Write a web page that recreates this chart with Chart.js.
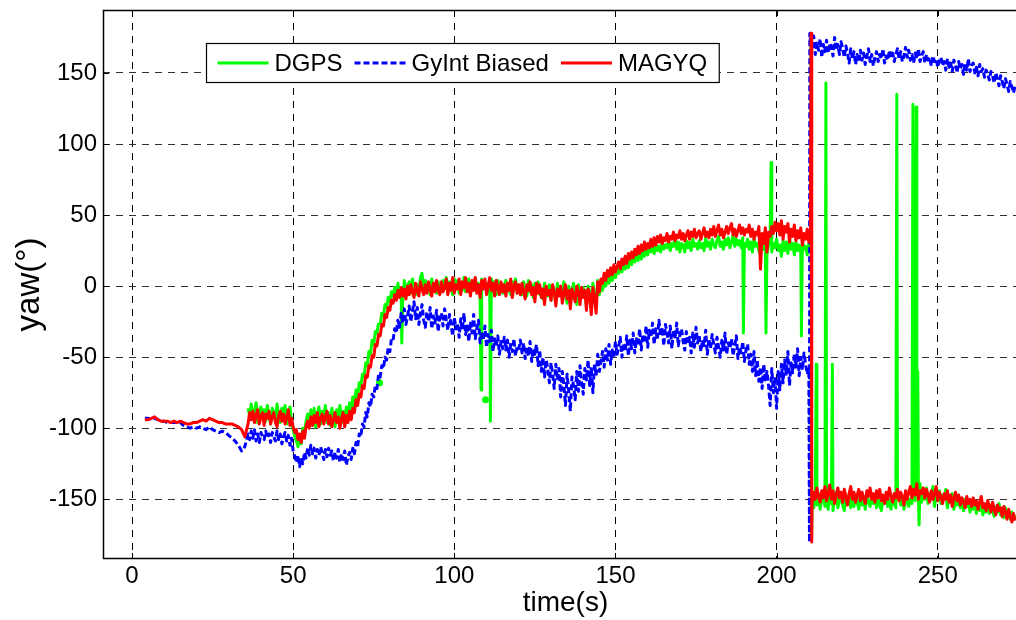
<!DOCTYPE html>
<html><head><meta charset="utf-8">
<script src="https://cdn.jsdelivr.net/npm/chart.js@4.4.1/dist/chart.umd.min.js"></script>
<style>html,body{margin:0;padding:0;background:#fff;overflow:hidden;width:1016px;height:620px;}</style>
</head><body>
<canvas id="c" width="1028" height="620"></canvas>
<script>
// trecho suave: 1 s a partir de 4 s; trecho ruidoso: 0,5 s a partir de 36 s (10 valores = 5 s por linha)
// pontos extras (saltos, picos, pontos soltos) em listas separadas
// a figura original é cortada à direita: o canvas passa um pouco da janela
const xTicks=[0,50,100,150,200,250];
const yTicks=[-150,-100,-50,0,50,100,150];
const labels=['DGPS','GyInt Biased','MAGYQ'];

const dgpsT0=36, dgpsDt=0.5;
const dgpsYaw=[
 -86,-91,-83,-94,-88,-82,-96,-90,-85,-93,
 -87,-95,-84,-91,-97,-86,-89,-94,-83,-92,
 -96,-86,-91,-84,-97,-89,-85,-95,-101,-106,
 -109,-113,-105,-111,-100,-104,-95,-90,-98,-87,
 -94,-86,-99,-90,-85,-97,-88,-93,-84,-96,
 -89,-98,-86,-92,-99,-87,-91,-84,-96,-88,
 -97,-85,-93,-82,-89,-78,-84,-73,-79,-68,
 -71,-62,-64,-54,-56,-46,-48,-38,-41,-32,
 -33,-26,-27,-19,-21,-13,-15,-8,-11,-4,
 -7,-1,-9,2,-5,-3,-8,4,-4,0,
 3,-5,5,-2,-6,1,-3,6,9,-4,
 4,-3,1,-6,5,-2,2,-5,3,-1,
 -4,4,-2,6,-5,3,0,-6,5,-2,
 4,-5,2,-3,6,-4,1,5,-6,3,
 -2,6,-4,2,-7,5,-1,3,-5,2,
 -4,5,-2,3,-6,4,-3,2,-5,1,
 4,-4,2,-6,3,-2,5,-5,1,-3,
 -6,3,-2,-7,4,-4,1,-8,2,-5,
 3,-6,-2,-9,2,-4,-7,1,-10,0,
 -3,-11,2,-5,-1,-8,3,-6,-12,0,
 -4,-9,2,-6,-13,1,-3,-8,-1,-5,
 -14,0,-4,-16,2,-7,-12,4,-6,1,
 -3,5,0,7,2,9,4,11,6,12,
 9,14,10,16,12,18,13,19,15,21,
 17,22,18,24,19,25,21,26,22,27,
 24,29,23,30,25,28,24,31,26,29,
 27,32,25,30,28,33,26,31,24,30,
 29,24,32,27,31,25,33,28,30,26,
 32,27,30,25,34,28,31,26,33,29,
 27,32,35,28,31,26,33,29,34,27,
 31,36,28,33,29,32,27,34,30,28,
 33,26,31,24,34,28,30,25,22,32,
 26,31,22,29,34,24,30,27,33,25,
 29,21,32,25,31,23,34,26,30,22,
 31,25,29,23,32,26,28,22,30,27,
 -152,-156,-148,-154,-146,-157,-150,-144,-155,-149,
 -157,-147,-153,-158,-149,-145,-156,-151,-147,-154,
 -158,-149,-153,-146,-156,-150,-155,-147,-152,-157,
 -148,-154,-150,-157,-146,-152,-155,-149,-153,-147,
 -156,-150,-154,-158,-149,-153,-147,-155,-151,-157,
 -148,-153,-156,-150,-146,-154,-149,-157,-152,-147,
 -155,-150,-153,-146,-151,-141,-148,-139,-152,-144,
 -150,-142,-153,-146,-148,-141,-155,-147,-151,-144,
 -153,-147,-150,-143,-156,-149,-152,-146,-157,-150,
 -154,-148,-156,-151,-158,-150,-155,-152,-159,-153,
 -157,-151,-160,-154,-158,-150,-161,-155,-159,-152,
 -160,-154,-158,-162,-155,-159,-153,-161,-157,-163,
 -156,-162,-158,-164,-159,-163,-161];
const dgpsExtraT=[76.7,76.8,76.9,83.7,108.3,109.6,109.7,109.8,111.2,189.7,196.7,198.3,207.7,210.6,210.85,212.3,215.3,217.3,237.3,242.3,242.8,243.3,243.8,244.2];
const dgpsExtraYaw=[null,-68,null,-40,-73,null,-80,null,-95,-33,-33,87,-35,178,-178,-55,143,-55,135,128,-70,126,-60,-168];

const gyintSuaveT0=4;
const gyintSuaveYaw=[
 -93,-93,-94,-93,-94,-95,
 -95,-96,-96,-96,-96,-96,-98,-99,-100,-99,
 -100,-99,-100,-101,-99,-101,-102,-103,-102,-103,
 -105,-107,-109,-112,-116,-113];
const gyintT0=36, gyintDt=0.5;
const gyintYaw=[
 -104,-108,-102,-107,-101,-109,-104,-110,-103,-106,
 -108,-102,-107,-104,-110,-103,-106,-109,-102,-108,
 -104,-111,-106,-103,-109,-105,-112,-107,-116,-120,
 -124,-119,-127,-121,-125,-117,-121,-114,-119,-112,
 -118,-114,-121,-115,-119,-113,-117,-122,-115,-120,
 -114,-119,-116,-123,-117,-121,-115,-124,-118,-122,
 -116,-126,-120,-117,-122,-114,-118,-110,-113,-104,
 -106,-97,-99,-89,-92,-82,-85,-76,-78,-70,
 -72,-62,-64,-56,-58,-50,-52,-43,-46,-37,
 -38,-30,-33,-24,-29,-19,-26,-16,-27,-21,
 -14,-25,-18,-11,-23,-15,-27,-19,-13,-24,
 -29,-18,-25,-15,-30,-21,-26,-17,-32,-22,
 -19,-28,-16,-24,-31,-20,-27,-35,-22,-30,
 -26,-36,-23,-31,-19,-34,-28,-39,-25,-33,
 -20,-37,-30,-24,-40,-32,-38,-28,-43,-34,
 -39,-31,-46,-37,-42,-35,-48,-39,-44,-36,
 -45,-38,-50,-41,-46,-37,-49,-42,-44,-38,
 -47,-40,-51,-43,-49,-39,-53,-44,-48,-41,
 -56,-45,-60,-50,-64,-52,-58,-68,-54,-62,
 -72,-55,-66,-58,-78,-60,-70,-84,-62,-74,
 -88,-64,-70,-80,-60,-74,-56,-68,-76,-58,
 -66,-52,-70,-57,-75,-55,-63,-48,-60,-53,
 -46,-57,-44,-52,-41,-55,-45,-50,-39,-48,
 -43,-36,-50,-40,-46,-35,-49,-38,-44,-33,
 -47,-37,-42,-30,-45,-34,-40,-28,-43,-31,
 -36,-26,-41,-30,-38,-24,-35,-29,-42,-27,
 -33,-40,-28,-44,-31,-37,-26,-42,-34,-30,
 -39,-45,-32,-41,-36,-47,-33,-43,-29,-40,
 -35,-46,-38,-42,-31,-48,-37,-44,-34,-41,
 -47,-36,-43,-50,-38,-45,-33,-48,-40,-44,
 -37,-49,-42,-35,-51,-43,-47,-39,-53,-45,
 -41,-55,-48,-60,-46,-63,-52,-67,-57,-72,
 -55,-66,-60,-70,-84,-58,-75,-64,-86,-60,
 -73,-55,-68,-52,-62,-46,-70,-54,-61,-48,
 -57,-44,-63,-50,-59,-47,-55,-62,-58,172,
 168,176,163,171,166,174,161,170,165,173,
 164,171,168,162,175,166,170,163,172,167,
 161,169,164,157,167,160,165,156,163,158,
 166,159,164,156,162,167,158,163,155,161,
 165,158,163,160,167,157,162,159,166,161,
 164,158,163,167,160,165,158,162,168,161,
 166,159,163,157,164,160,167,158,162,165,
 157,163,159,161,155,162,158,160,154,159,
 161,155,158,152,160,154,157,151,159,156,
 150,158,153,156,149,157,152,160,151,155,
 157,150,154,148,156,151,153,147,152,149,
 145,151,148,143,150,146,141,148,144,139,
 146,142,137,144,140,136,141];
const gyintExtraT=[210.2,210.3];
const gyintExtraYaw=[-180,178];

const magyqSuaveT0=4;
const magyqSuaveYaw=[
 -94,-94,-93,-92,-94,-95,
 -95,-95,-96,-95,-96,-95,-96,-97,-97,-96,
 -96,-95,-94,-95,-93,-94,-95,-96,-96,-97,
 -97,-97,-98,-99,-101,-106];
const magyqT0=36, magyqDt=0.5;
const magyqYaw=[
 -97,-89,-94,-88,-96,-91,-87,-97,-92,-89,
 -98,-90,-93,-88,-97,-92,-89,-96,-99,-91,
 -88,-95,-90,-97,-92,-87,-98,-93,-99,-103,
 -101,-108,-104,-110,-102,-107,-99,-95,-100,-92,
 -98,-91,-96,-89,-99,-93,-90,-97,-92,-88,
 -97,-91,-99,-94,-89,-96,-92,-100,-93,-89,
 -99,-91,-96,-88,-94,-86,-89,-80,-84,-76,
 -78,-70,-72,-63,-64,-56,-57,-49,-50,-41,
 -42,-34,-35,-27,-28,-20,-22,-15,-17,-10,
 -12,-6,-10,-3,-8,-1,-7,-2,-9,0,
 -6,1,-4,-8,2,-3,-7,3,-2,-6,
 1,-5,3,-2,-7,2,-4,4,-3,-6,
 3,-4,-1,5,-6,2,-3,6,-5,1,
 -2,5,-6,3,-1,6,-4,2,-7,4,
 -3,6,-5,1,-8,4,-2,5,-6,0,
 6,-3,2,-7,4,-1,-6,3,-4,1,
 -7,2,-3,5,-8,0,3,-5,1,-6,
 2,-4,-9,1,-3,3,-6,-1,-11,2,
 -5,1,-8,-2,-13,0,-6,-3,-10,1,
 -4,-14,-2,-7,0,-12,-5,1,-9,-3,
 -16,-2,-6,-11,0,-4,-13,-1,-8,-3,
 -17,-2,-6,-20,-1,-9,-19,3,-4,5,
 2,9,4,11,7,13,8,15,10,14,
 17,12,19,15,21,16,23,19,24,20,
 26,22,28,23,29,25,31,26,30,27,
 33,28,34,29,35,31,36,30,34,32,
 37,31,35,33,38,32,36,34,39,33,
 37,32,36,39,33,38,35,40,34,37,
 39,33,37,41,35,38,34,40,36,42,
 35,39,43,36,40,34,38,42,37,41,
 44,36,40,35,39,43,37,41,36,40,
 38,43,35,40,33,38,36,42,12,37,
 30,41,24,38,35,42,37,45,39,44,
 36,46,33,42,38,44,31,40,35,43,
 32,39,34,41,29,37,33,40,31,36,
 -153,-145,-150,-142,-148,-152,-144,-149,-141,-151,
 -146,-140,-150,-144,-153,-147,-142,-149,-145,-152,
 -143,-148,-154,-146,-141,-150,-145,-152,-147,-143,
 -151,-145,-149,-153,-144,-148,-142,-150,-146,-152,
 -144,-149,-143,-151,-147,-153,-145,-150,-142,-148,
 -152,-146,-149,-143,-151,-145,-148,-154,-144,-150,
 -145,-141,-149,-143,-147,-139,-150,-144,-146,-142,
 -149,-143,-147,-152,-144,-150,-146,-141,-151,-145,
 -148,-153,-146,-150,-144,-152,-147,-155,-149,-145,
 -151,-147,-154,-149,-152,-156,-148,-153,-150,-155,
 -149,-154,-151,-157,-152,-148,-156,-153,-158,-151,
 -155,-159,-152,-157,-161,-154,-158,-156,-162,-155,
 -159,-164,-157,-162,-166,-160,-165];
const magyqExtraT=[210.7,210.9];
const magyqExtraYaw=[178,-180];

// junta trechos amostrados (t0, passo, valores) e pontos extras, ordenado no tempo
function serie(trechos,exT,exYaw){
  const p=[];
  trechos.forEach(([t0,dt,yaw])=>yaw.forEach((v,i)=>p.push({x:t0+i*dt,y:v})));
  exT.forEach((t,i)=>p.push({x:t,y:exYaw[i]}));
  return p.sort((a,b)=>a.x-b.x);
}
// ponto isolado (entre nulos) vira bolinha
function raioIsolado(ctx){
  const d=ctx.dataset.data,i=ctx.dataIndex,a=d[i-1],b=d[i+1];
  return d[i]&&d[i].y!==null&&a&&a.y===null&&b&&b.y===null?3.5:0;
}

const FONTE='"Liberation Sans", Arial, sans-serif';
const cores=['#00ff00','#0000ff','#ff0000'];
const tracos=[[],[6,3],[]];

const moldura={id:'moldura',afterDatasetsDraw(ch){
  const {ctx:c,chartArea:a,scales:{x,y}}=ch;
  c.save();
  c.strokeStyle='#000';c.lineWidth=1.5;
  c.beginPath();
  c.moveTo(a.right,a.top+0.5);c.lineTo(a.left+0.5,a.top+0.5);c.lineTo(a.left+0.5,a.bottom-0.5);c.lineTo(a.right,a.bottom-0.5);
  c.stroke();
  c.lineWidth=1;c.beginPath();
  xTicks.forEach(v=>{const p=Math.round(x.getPixelForValue(v))+0.5;c.moveTo(p,a.bottom);c.lineTo(p,a.bottom-6);c.moveTo(p,a.top);c.lineTo(p,a.top+6);});
  yTicks.forEach(v=>{const p=Math.round(y.getPixelForValue(v))+0.5;c.moveTo(a.left,p);c.lineTo(a.left+6,p);});
  c.stroke();
  // legenda com caixa, dentro do gráfico
  c.font='24px '+FONTE;
  const x0=a.left+103.5,y0=a.top+33.5,h=39,ym=y0+h/2;
  const larg=labels.reduce((s,l)=>s+51+6+c.measureText(l).width+12,11);
  c.fillStyle='#fff';c.fillRect(x0,y0,larg,h);
  c.lineWidth=1.2;c.strokeStyle='#000';c.strokeRect(x0,y0,larg,h);
  let px=x0+11;
  labels.forEach((l,i)=>{
    c.setLineDash(tracos[i]);c.strokeStyle=cores[i];c.lineWidth=3;
    c.beginPath();c.moveTo(px,ym);c.lineTo(px+51,ym);c.stroke();
    c.setLineDash([]);
    px+=57;
    c.fillStyle='#000';c.textBaseline='middle';c.textAlign='left';
    c.fillText(l,px,ym+1);
    px+=c.measureText(l).width+12;
  });
  c.restore();
}};

new Chart(document.getElementById('c'),{
  type:'line',
  data:{datasets:[
    {label:labels[0],data:serie([[dgpsT0,dgpsDt,dgpsYaw]],dgpsExtraT,dgpsExtraYaw),borderColor:cores[0],backgroundColor:cores[0],borderWidth:3,order:2,pointRadius:raioIsolado,pointBackgroundColor:cores[0],pointBorderWidth:0},
    {label:labels[1],data:serie([[gyintSuaveT0,1,gyintSuaveYaw],[gyintT0,gyintDt,gyintYaw]],gyintExtraT,gyintExtraYaw),borderColor:cores[1],borderWidth:3,borderDash:tracos[1],order:1,pointRadius:0},
    {label:labels[2],data:serie([[magyqSuaveT0,1,magyqSuaveYaw],[magyqT0,magyqDt,magyqYaw]],magyqExtraT,magyqExtraYaw),borderColor:cores[2],borderWidth:3,order:0,pointRadius:0}
  ]},
  options:{
    responsive:false,animation:false,
    layout:{padding:{top:10,right:0,left:0,bottom:0}},
    elements:{line:{tension:0,borderJoinStyle:'round'},point:{hoverRadius:0}},
    plugins:{legend:{display:false},tooltip:{enabled:false}},
    scales:{
      x:{type:'linear',min:-9,max:278,
        afterBuildTicks:s=>{s.ticks=xTicks.map(v=>({value:v}));},
        afterFit:s=>{s.height=61;s.paddingLeft=0;s.paddingRight=0;},
        grid:{color:'#000',lineWidth:1,drawTicks:false},
        border:{display:false,dash:[7,6]},
        ticks:{color:'#000',padding:3,maxRotation:0,font:{family:FONTE,size:24}},
        title:{display:true,text:'time(s)',color:'#000',padding:{top:0,bottom:0},font:{family:FONTE,size:28}}},
      y:{min:-192,max:194.3,
        afterBuildTicks:s=>{s.ticks=yTicks.map(v=>({value:v}));},
        afterFit:s=>{s.width=103;s.paddingTop=0;s.paddingBottom=0;},
        grid:{color:'#333',lineWidth:1,drawTicks:false},
        border:{display:false,dash:[7,6]},
        ticks:{color:'#000',padding:6,font:{family:FONTE,size:24}},
        title:{display:true,text:'yaw(°)',color:'#000',padding:{top:10,bottom:0},font:{family:FONTE,size:33}}}
    }
  },
  plugins:[moldura]
});
</script>
</body></html>
